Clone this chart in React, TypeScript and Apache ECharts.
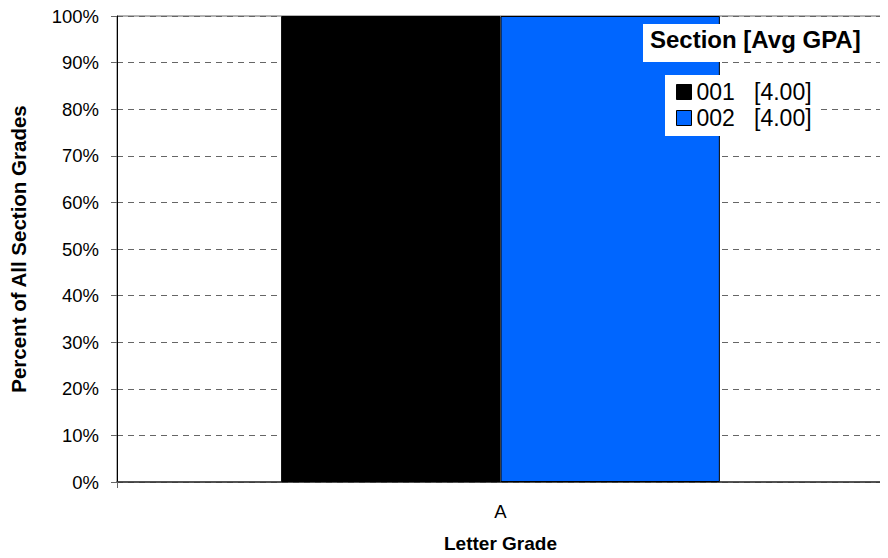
import React, { useEffect, useRef } from "react";
import * as echarts from "echarts";

const categories = ["A"];
const sectionNames = ["001", "002"];
const sectionGpa = ["4.00", "4.00"];
const section001 = [100];
const section002 = [100];
const yTicks = [0, 10, 20, 30, 40, 50, 60, 70, 80, 90, 100];
const colors = ["#000000", "#0066FF"];

export default function App() {
  const ref = useRef<HTMLDivElement>(null);
  useEffect(() => {
    if (!ref.current) return;
    const chart = echarts.init(ref.current, null, { renderer: "svg" });
    const font = "Liberation Sans, Arial, sans-serif";
    const seriesData = [section001, section002];
    chart.setOption({
      animation: false,
      backgroundColor: "#ffffff",
      textStyle: { fontFamily: font },
      grid: {
        left: 114,
        right: 4,
        top: 16,
        bottom: 74,
        show: true,
        borderColor: "#666666",
        borderWidth: 1,
        backgroundColor: "transparent",
      },
      xAxis: {
        type: "category",
        data: categories,
        name: "Letter Grade",
        nameLocation: "middle",
        nameGap: 52,
        nameTextStyle: { fontFamily: font, fontWeight: "bold", fontSize: 19, color: "#000" },
        axisLine: { lineStyle: { color: "#333333", width: 1.5 } },
        axisTick: { show: true, length: 6, lineStyle: { color: "#666666" } },
        axisLabel: { fontFamily: font, fontSize: 18.5, color: "#000", margin: 20 },
      },
      yAxis: {
        type: "value",
        min: 0,
        max: 100,
        interval: 10,
        name: "Percent of All Section Grades",
        nameLocation: "middle",
        nameGap: 88,
        nameRotate: 90,
        nameTextStyle: { fontFamily: font, fontWeight: "bold", fontSize: 20.5, color: "#000" },
        axisLine: { show: true, lineStyle: { color: "#000000", width: 1 } },
        axisTick: { show: true, length: 6, lineStyle: { color: "#666666" } },
        axisLabel: {
          fontFamily: font,
          fontSize: 18.5,
          color: "#000",
          margin: 18,
          formatter: (v: number) => (yTicks.includes(v) ? v + "%" : ""),
        },
        splitLine: { show: true, lineStyle: { color: "#666666", type: [6, 5], width: 1 } },
      },
      legend: {
        show: true,
        orient: "vertical",
        left: 665,
        top: 75,
        padding: [5, 6, 6, 11],
        itemGap: 2,
        itemWidth: 15,
        itemHeight: 15,
        backgroundColor: "#ffffff",
        icon: "rect",
        data: sectionNames,
        textStyle: { fontFamily: font, fontSize: 23, color: "#000", lineHeight: 24, padding: [0, 0, 0, 0] },
        itemStyle: { borderColor: "#000", borderWidth: 1 },
        formatter: (name: string) => {
          const i = sectionNames.indexOf(name);
          return name + "   [" + sectionGpa[i] + "]";
        },
      },
      graphic: [
        {
          type: "rect",
          left: 643,
          top: 24,
          shape: { width: 222, height: 38 },
          style: { fill: "#ffffff" },
          z: 100,
        },
        {
          type: "text",
          left: 650,
          top: 27,
          style: {
            text: "Section [Avg GPA]",
            font: "bold 24px Liberation Sans, Arial, sans-serif",
            fill: "#000",
          },
          z: 101,
        },
      ],
      series: sectionNames.map((n, i) => ({
        name: n,
        type: "bar",
        data: seriesData[i],
        barWidth: "28.6%",
        barGap: "0%",
        itemStyle: { color: colors[i], borderColor: "#000", borderWidth: 1 },
      })),
    });
    return () => chart.dispose();
  }, []);
  return <div ref={ref} style={{ width: 888, height: 558, margin: -8 }} />;
}
